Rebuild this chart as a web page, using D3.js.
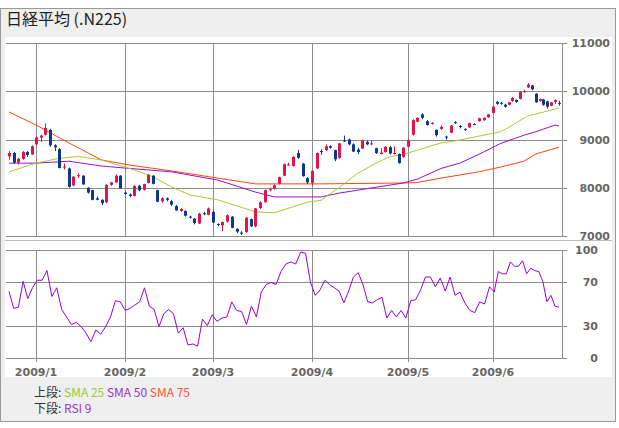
<!DOCTYPE html>
<html><head><meta charset="utf-8">
<script src="https://cdn.jsdelivr.net/npm/d3@7"></script>
<style>body{margin:0;background:#fff;font-family:"DejaVu Sans",sans-serif}</style>
</head><body><svg id="c" width="619" height="428"></svg>
<script>
const monthLabels=["2009/1","2009/2","2009/3","2009/4","2009/5","2009/6"];
const monthStart=[6,25,44,65,86,104];
const priceTicks=[7000,8000,9000,10000,11000];
const rsiTicks=[0,30,70,100];
const ohlc=[
[8650,8760,8580,8720],[8720,8740,8500,8520],[8520,8620,8480,8600],[8600,8760,8580,8740],[8740,8760,8640,8680],[8690,8880,8680,8860],
[8900,9080,8880,9040],[9040,9100,8950,9080],[9100,9330,9080,9240],[9200,9220,8850,8880],[8880,8900,8760,8840],[8800,8820,8400,8410],[8420,8500,8380,8440],[8400,8420,8000,8020],[8050,8240,8030,8230],[8240,8300,8200,8260],[8250,8260,8060,8070],[8000,8010,7880,7900],[7950,7960,7740,7750],[7780,7820,7740,7750],[7750,7760,7640,7680],[7700,8070,7680,8060],[8060,8120,8040,8110],[8110,8280,8100,8250],[8250,8260,7980,7990],
[7900,7920,7860,7870],[7860,7880,7800,7830],[7830,8050,7820,8040],[8040,8060,7930,7950],[7960,8080,7940,8080],[8100,8280,8090,8270],[8250,8260,8070,8080],[7950,7960,7700,7710],[7720,7800,7690,7780],[7780,7800,7720,7750],[7720,7740,7620,7650],[7620,7640,7520,7530],[7520,7580,7500,7560],[7520,7530,7400,7420],[7400,7420,7360,7380],[7360,7370,7240,7270],[7260,7480,7250,7460],[7470,7500,7430,7460],[7440,7590,7430,7570],
[7500,7520,7270,7280],[7250,7260,7200,7230],[7220,7300,7100,7290],[7300,7450,7280,7430],[7400,7410,7160,7170],[7150,7160,7060,7090],[7070,7100,7020,7050],[7080,7390,7070,7380],[7350,7360,7190,7200],[7200,7580,7180,7570],[7580,7720,7560,7700],[7700,7960,7690,7950],[7950,8000,7930,7970],[7980,8070,7960,8050],[8080,8230,8070,8220],[8250,8500,8240,8490],[8480,8520,8460,8480],[8450,8650,8440,8640],[8720,8780,8600,8620],[8500,8510,8230,8240],[8200,8220,8080,8110],
[8100,8360,8050,8350],[8400,8730,8390,8720],[8760,8800,8680,8750],[8780,8900,8760,8860],[8860,8880,8810,8830],[8780,8790,8550,8590],[8620,8930,8600,8920],[8980,9080,8950,8960],[9000,9020,8880,8900],[8900,8920,8740,8750],[8790,8830,8700,8740],[8810,9000,8800,8980],[8950,8980,8880,8900],[8920,8980,8880,8920],[8820,8830,8700,8720],[8700,8820,8690,8730],[8740,8860,8730,8850],[8840,8870,8690,8710],[8720,8860,8690,8720],[8700,8710,8500,8510],[8640,8840,8620,8830],
[8850,9010,8840,8980],[9100,9420,9080,9400],[9370,9460,9360,9450],[9520,9540,9420,9450],[9380,9400,9290,9300],[9340,9360,9310,9340],[9200,9210,9060,9090],[9220,9290,9200,9260],[9060,9080,9000,9040],[9140,9300,9130,9290],[9360,9380,9320,9350],[9280,9300,9230,9260],[9220,9230,9180,9200],[9250,9350,9240,9340],[9320,9340,9300,9310],[9380,9450,9370,9440],[9400,9460,9390,9450],[9460,9530,9450,9520],
[9550,9700,9540,9680],[9780,9800,9720,9740],[9760,9780,9720,9740],[9720,9740,9660,9680],[9720,9780,9710,9770],[9800,9880,9780,9860],[9820,9830,9760,9780],[9840,10000,9830,9990],[9990,10030,9970,10000],[10080,10170,10070,10140],[10120,10130,10020,10040],[9950,9960,9760,9770],[9800,9850,9780,9840],[9830,9840,9700,9720],[9790,9800,9640,9680],[9700,9780,9690,9770],[9780,9830,9740,9820],[9760,9800,9700,9740]
];
const sma25=[[0,8330],[6,8510],[11,8610],[15,8650],[20,8575],[26,8400],[31,8230],[35,8020],[39,7850],[45,7750],[53,7500],[57,7480],[64,7700],[67,7740],[71,8010],[75,8300],[79,8510],[82,8640],[86,8720],[88,8780],[93,8930],[96,8970],[101,9070],[106,9160],[109,9300],[113,9490],[117,9570],[121,9650]];
const sma50=[[0,8510],[6,8510],[13,8550],[20,8450],[26,8400],[35,8330],[45,8160],[53,7910],[57,7810],[64,7810],[67,7810],[71,7890],[79,8010],[85,8100],[88,8180],[93,8400],[97,8510],[102,8740],[106,8920],[112,9090],[115,9160],[120,9300],[121,9280]];
const sma75=[[0,9570],[6,9300],[13,8930],[20,8575],[26,8470],[35,8350],[45,8200],[53,8080],[64,8080],[67,8080],[86,8100],[88,8110],[93,8200],[101,8330],[106,8430],[112,8550],[115,8700],[121,8840]];
const rsi=[61.5,46,47,71,55,65,72,72,81,57,65,45,38,31,33,29,23,15,26,22,29,38,53,52,44,46,49,52,65,48,45,29,41,45,41,23,28,12,13,11,36,30,40,34,37,38,52,44,43,31,48,38,61,68,70,68,80,87,89,87,98,97,70,58,63,72,68,65,62,51,62,75,79,68,52,51,54,56,37,44,38,44,37,53,54,63,75,75,66,74,62,75,58,61,51,44,42,52,50,66,61,80,78,78,89,85,85,90,78,83,81,80,71,52,58,48,47];

const svg=d3.select("#c");
svg.append("rect").attr("x",0).attr("y",0).attr("width",619).attr("height",428).attr("fill","#fff");
svg.append("rect").attr("x",0.5).attr("y",8.5).attr("width",615).attr("height",413).attr("fill","#efefef").attr("stroke","#999");
svg.append("rect").attr("x",5).attr("y",37).attr("width",607).attr("height",340).attr("fill","#fff");
svg.append("text").attr("x",6).attr("y",25).attr("font-size",16).attr("fill","#222").attr("font-family","'Noto Sans CJK JP',sans-serif").text("日経平均 (.N225)");

const L=6,R=562;
const n=ohlc.length-1;
const x=d3.scaleLinear().domain([0,6,25,44,65,86,104,n]).range([9,36,125,213,312,408,493,559]);
const xr=d3.scaleLinear().domain([0,rsi.length-1]).range([0,n]);
const y=d3.scaleLinear().domain([7000,11000]).range([236,43]);
const yr=d3.scaleLinear().domain([0,100]).range([358,250]);
const grid="#8c8c8c";
const g=svg.append("g");
priceTicks.forEach(t=>g.append("line").attr("x1",L).attr("x2",R+5).attr("y1",Math.round(y(t))+0.5).attr("y2",Math.round(y(t))+0.5).attr("stroke",grid));
rsiTicks.forEach(t=>g.append("line").attr("x1",L).attr("x2",R+5).attr("y1",Math.round(yr(t))+0.5).attr("y2",Math.round(yr(t))+0.5).attr("stroke",grid));
g.append("line").attr("x1",5).attr("x2",612).attr("y1",240.5).attr("y2",240.5).attr("stroke","#bbb");
monthStart.forEach(i=>{const xx=Math.round(x(i))+0.5;
 g.append("line").attr("x1",xx).attr("x2",xx).attr("y1",43).attr("y2",236).attr("stroke",grid);
 g.append("line").attr("x1",xx).attr("x2",xx).attr("y1",250).attr("y2",362).attr("stroke",grid);});
g.append("line").attr("x1",R+0.5).attr("x2",R+0.5).attr("y1",43).attr("y2",236).attr("stroke",grid);
g.append("line").attr("x1",R+0.5).attr("x2",R+0.5).attr("y1",250).attr("y2",358).attr("stroke",grid);
const lab={"font-size":11,"font-weight":"bold","fill":"#666"};
function T(sel){for(const k in lab)sel.attr(k,lab[k]);return sel;}
priceTicks.forEach(t=>T(g.append("text")).attr("x",610).attr("y",y(t)+4).attr("text-anchor","end").text(t));
rsiTicks.forEach(t=>T(g.append("text")).attr("x",598).attr("y",yr(t)+4).attr("text-anchor","end").text(t));
monthStart.forEach((i,k)=>T(g.append("text")).attr("x",x(i)).attr("y",376).attr("text-anchor","middle").text(monthLabels[k]));

const line=d3.line().x(d=>x(d[0])).y(d=>y(d[1]));
[[sma75,"#ff4411"],[sma50,"#9911cc"],[sma25,"#a8cc33"]].forEach(([s,c])=>g.append("path").attr("d",line(s)).attr("fill","none").attr("stroke",c).attr("stroke-width",1));
ohlc.forEach((d,i)=>{const [o,h,l,c]=d;const col=c>=o?"#e0154a":"#0b3a8c";const cx=Math.round(x(i));
 g.append("line").attr("x1",cx+0.5).attr("x2",cx+0.5).attr("y1",y(h)).attr("y2",y(l)).attr("stroke",col);
 const t=y(Math.max(o,c)),b=y(Math.min(o,c));
 g.append("rect").attr("x",cx-1).attr("y",t).attr("width",3).attr("height",Math.max(1,b-t)).attr("fill",col);});
g.append("path").attr("d",d3.line().x((d,i)=>x(xr(i))).y(d=>yr(d))(rsi)).attr("fill","none").attr("stroke","#9900dd").attr("stroke-width",1);

const lg=svg.append("g").attr("font-size",12).attr("font-family","'Noto Sans CJK JP',sans-serif");
const l1=lg.append("text").attr("x",34).attr("y",397);
l1.append("tspan").attr("fill","#333").text("上段: ");
l1.append("tspan").attr("fill","#9c3").text("SMA 25 ");
l1.append("tspan").attr("fill","#93c").text("SMA 50 ");
l1.append("tspan").attr("fill","#f53").text("SMA 75");
const l2=lg.append("text").attr("x",34).attr("y",413);
l2.append("tspan").attr("fill","#333").text("下段: ");
l2.append("tspan").attr("fill","#93c").text("RSI 9");
</script></body></html>
